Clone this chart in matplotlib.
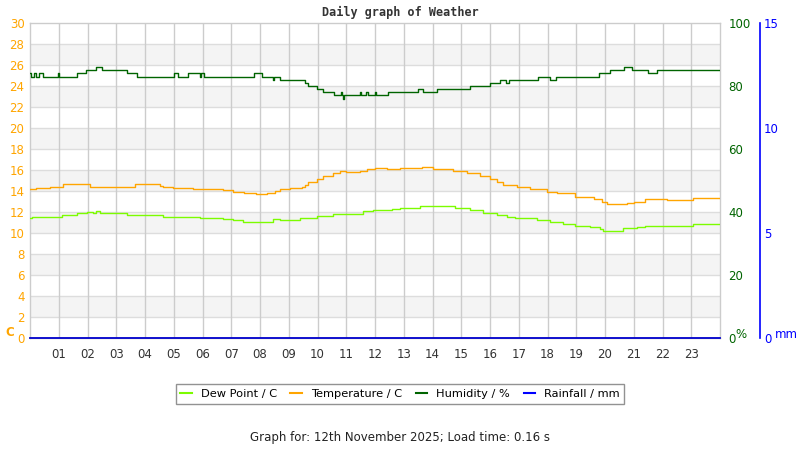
import numpy as np
import matplotlib.pyplot as plt
from matplotlib.lines import Line2D

# --- data (hours since midnight, step changes) ---
temp_hours = [0.0, 0.2, 0.7, 1.15, 2.1, 3.65, 4.52, 4.63, 4.96, 5.66, 6.7, 7.07, 7.45,
              7.85, 8.23, 8.52, 8.7, 9.04, 9.45, 9.57, 9.68, 9.97, 10.2, 10.55, 10.78,
              11.0, 11.48, 11.71, 12.0, 12.4, 12.87, 13.62, 14.03, 14.72, 15.19, 15.65,
              16.0, 16.23, 16.46, 16.93, 17.39, 17.97, 18.32, 18.96, 19.6, 19.88, 20.06,
              20.75, 21.0, 21.39, 22.14, 23.07, 23.88, 24.0]
temp_c = [14.2, 14.3, 14.4, 14.7, 14.4, 14.7, 14.5, 14.4, 14.3, 14.2, 14.1, 13.9, 13.8,
          13.7, 13.8, 14.0, 14.2, 14.3, 14.4, 14.6, 14.9, 15.1, 15.4, 15.7, 15.9,
          15.8, 15.9, 16.1, 16.2, 16.1, 16.2, 16.3, 16.1, 15.9, 15.7, 15.4,
          15.1, 14.9, 14.6, 14.4, 14.2, 13.9, 13.8, 13.4, 13.2, 13.0, 12.8,
          12.85, 12.95, 13.2, 13.15, 13.3, 13.35, 13.35]

dew_hours = [0.0, 0.06, 0.41, 1.1, 1.62, 1.97, 2.2, 2.3, 2.43, 3.36, 3.71, 4.64, 5.91,
             6.72, 7.07, 7.42, 8.23, 8.46, 8.7, 9.39, 9.97, 10.55, 11.01, 11.59, 11.94,
             12.6, 12.87, 13.57, 14.15, 14.78, 15.3, 15.77, 16.23, 16.58, 16.87, 17.62,
             18.09, 18.55, 18.96, 19.48, 19.83, 19.94, 20.64, 21.1, 21.39, 22.03, 23.07,
             23.77, 24.0]
dew_c = [11.4, 11.5, 11.5, 11.7, 11.9, 12.0, 11.9, 12.05, 11.9, 11.7, 11.7, 11.5, 11.4,
         11.3, 11.2, 11.05, 11.05, 11.3, 11.25, 11.45, 11.6, 11.8, 11.8, 12.05, 12.15,
         12.3, 12.35, 12.55, 12.6, 12.35, 12.2, 11.95, 11.7, 11.55, 11.4, 11.25,
         11.05, 10.85, 10.65, 10.55, 10.4, 10.2, 10.45, 10.55, 10.65, 10.7, 10.85,
         10.9, 10.9]

hum_hours = [0.0, 0.04, 0.15, 0.2, 0.3, 0.45, 0.97, 1.0, 1.62, 1.94, 2.28, 2.52, 3.36,
             3.71, 5.0, 5.15, 5.5, 5.9, 5.95, 6.05, 7.8, 8.08, 8.45, 8.5, 8.7, 9.57,
             9.68, 9.97, 10.2, 10.58, 10.8, 10.85, 10.88, 10.92, 11.48, 11.52, 11.7,
             11.75, 12.0, 12.05, 12.44, 13.5, 13.67, 14.17, 15.3, 16.0, 16.35, 16.55,
             16.66, 17.68, 18.1, 18.3, 19.8, 20.17, 20.66, 20.94, 21.5, 21.8, 24.0]
hum_pct = [84, 83, 84, 83, 84, 83, 84, 83, 84, 85, 86, 85, 84,
           83, 84, 83, 84, 83, 84, 83, 84, 83, 82, 83, 82, 81,
           80, 79, 78, 77, 78, 77, 76, 77, 78, 77, 78,
           77, 78, 77, 78, 79, 78, 79, 80, 81, 82, 81,
           82, 83, 82, 83, 84, 85, 86, 85, 84, 85, 85]

rain_hours = [0.0, 24.0]
rain_mm = [0.0, 0.0]

hour_labels = ['%02d' % h for h in range(1, 24)]

C_TEMP = '#FFA500'
C_DEW = '#7CFC00'
C_HUM = '#006400'
C_RAIN = '#0000FF'
FS = 8.5

fig = plt.figure(figsize=(8, 4.5), dpi=100)
ax = fig.add_axes([30 / 800, 1 - 338 / 450, 690 / 800, 315 / 450])

# alternating bands and grid
for lo in range(2, 30, 4):
    ax.axhspan(lo, lo + 2, color='#f4f4f4', zorder=0, lw=0)
for y in range(2, 30, 2):
    ax.axhline(y, color='#dddddd', lw=1.0, zorder=0.5)
for h in range(1, 24):
    ax.axvline(h, color='#cccccc', lw=1.0, zorder=0.5)

ax.step(dew_hours, dew_c, where='post', color=C_DEW, lw=1.0, zorder=3)
ax.step(temp_hours, temp_c, where='post', color=C_TEMP, lw=1.0, zorder=3)

ax.set_xlim(0, 24)
ax.set_ylim(0, 30)
ax.set_yticks(range(0, 31, 2))
ax.set_xticks(range(1, 24))
ax.set_xticklabels(hour_labels)
ax.tick_params(axis='y', length=0, pad=4, colors=C_TEMP, labelsize=FS)
ax.tick_params(axis='x', length=0, pad=7, colors='#333333', labelsize=FS)
for s in ax.spines.values():
    s.set_color('#cccccc')
    s.set_linewidth(1.0)

# humidity axis
ax2 = ax.twinx()
ax2.step(hum_hours, hum_pct, where='post', color=C_HUM, lw=1.0, zorder=3)
ax2.set_ylim(0, 100)
ax2.set_yticks(range(0, 101, 20))
ax2.tick_params(axis='y', length=0, pad=6, colors=C_HUM, labelsize=FS)
for s in ax2.spines.values():
    s.set_visible(False)

# rainfall axis
ax3 = ax.twinx()
ax3.plot(rain_hours, rain_mm, color='#0000cc', lw=1.3, zorder=4, clip_on=False)
ax3.set_ylim(0, 15)
ax3.set_yticks([0, 5, 10, 15])
for name, s in ax3.spines.items():
    s.set_visible(name == 'right')
ax3.spines['right'].set_position(('axes', (760 - 30) / 690))
ax3.spines['right'].set_color(C_RAIN)
ax3.spines['right'].set_linewidth(1.2)
ax3.tick_params(axis='y', length=0, pad=3, colors=C_RAIN, labelsize=FS)

# unit labels
fig.text(5 / 800, 1 - 333 / 450, 'C', color=C_TEMP, fontsize=FS,
         fontweight='bold', ha='left', va='center')
fig.text(735 / 800, 1 - 334 / 450, '%', color=C_HUM, fontsize=FS,
         ha='left', va='center')
fig.text(775 / 800, 1 - 334 / 450, 'mm', color=C_RAIN, fontsize=FS,
         ha='left', va='center')

fig.text(0.5, 1 - 12 / 450, 'Daily graph of Weather', family='DejaVu Sans Mono',
         fontweight='bold', fontsize=FS, color='#333333', ha='center', va='center')
fig.text(0.5, 1 - 437 / 450, 'Graph for: 12th November 2025; Load time: 0.16 s',
         fontsize=FS, color='#222222', ha='center', va='center')

handles = [Line2D([], [], color=C_DEW, lw=1.5),
           Line2D([], [], color=C_TEMP, lw=1.5),
           Line2D([], [], color=C_HUM, lw=1.5),
           Line2D([], [], color=C_RAIN, lw=1.5)]
labels = ['Dew Point / C', 'Temperature / C', 'Humidity / %', 'Rainfall / mm']
leg = fig.legend(handles, labels, loc='center', bbox_to_anchor=(0.5, 1 - 394 / 450),
                 ncol=4, fontsize=8.2, frameon=True, fancybox=False,
                 handlelength=1.0, handletextpad=0.8, columnspacing=1.2,
                 borderpad=0.4, borderaxespad=0, edgecolor='#777777')
leg.get_frame().set_linewidth(1.0)

fig.savefig('out.png', dpi=100, facecolor='white')
